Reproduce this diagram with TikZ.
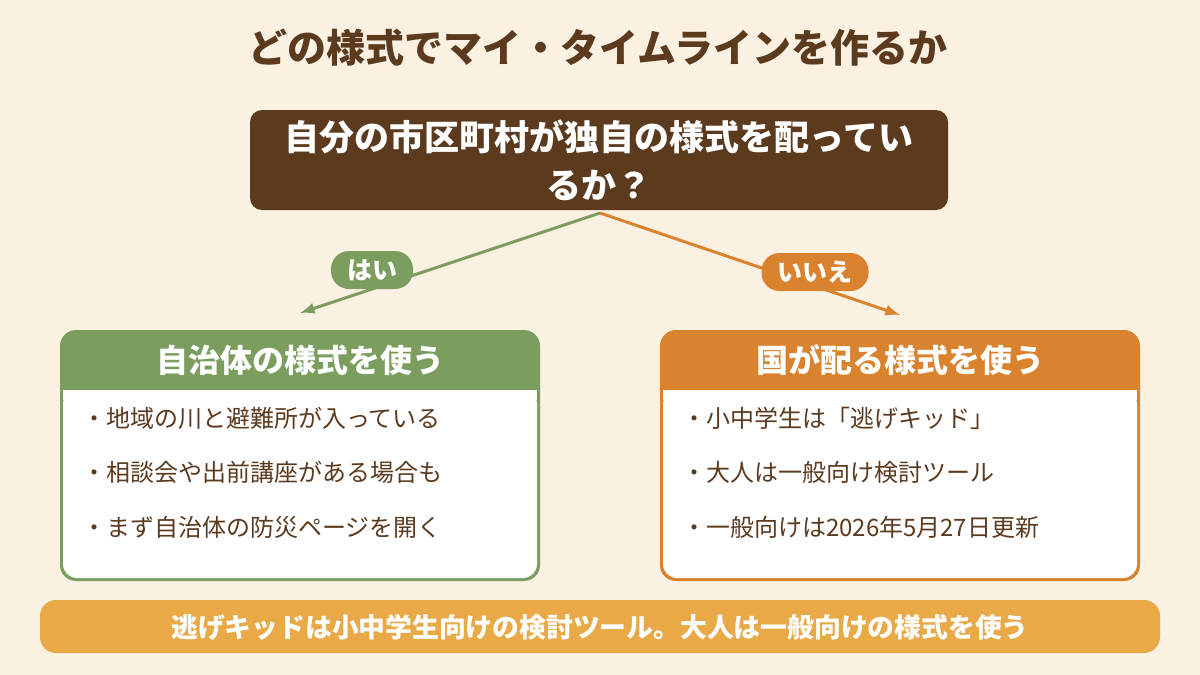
\documentclass[tikz,border=0pt]{standalone}
\usepackage{fontspec}
\setmainfont{Noto Sans CJK JP}
\usetikzlibrary{positioning}
\definecolor{bgcream}{HTML}{FAF1E3}
\definecolor{brown}{HTML}{5C3A1E}
\definecolor{leaf}{HTML}{7B9E5E}
\definecolor{amber}{HTML}{DA832E}
\definecolor{gold}{HTML}{E8A946}
\tikzset{
  pill/.style={rounded corners=9pt, text=white, font=\fontsize{12.5}{14}\selectfont\bfseries, minimum height=19pt, inner xsep=8pt},
  head/.style={text=white, font=\fontsize{16}{18}\selectfont\bfseries},
  item/.style={right, text=brown, font=\fontsize{12}{14}\selectfont},
  link/.style={line width=1.5pt, -latex},
}
\begin{document}
\begin{tikzpicture}[x=0.5pt,y=-0.5pt]
\fill[bgcream] (0,0) rectangle (1200,675);
\useasboundingbox (0,0) rectangle (1200,675);
\node[text=brown, font=\fontsize{19.5}{22}\selectfont\bfseries] (title) at (598,48) {どの様式でマイ・タイムラインを作るか};
% question
\fill[brown, rounded corners=6pt] (250,110) rectangle (948,210);
\node[text=white, font=\fontsize{17.5}{24}\selectfont\bfseries, align=center] (q) at (599,160) {自分の市区町村が独自の様式を配ってい\\るか？};
\coordinate (qs) at (600,213);
\coordinate (yesend) at (300,313);
\coordinate (noend) at (900,315);
\draw[link, leaf] (qs) -- (yesend);
\draw[link, amber] (qs) -- (noend);
\node[pill, fill=leaf] (yes) at (372,270) {はい};
\node[pill, fill=amber] (no) at (815,272) {いいえ};
% left box
\fill[leaf, rounded corners=8pt] (60,330) rectangle (540,581);
\fill[white, rounded corners=7pt] (63,390) rectangle (537,578);
\fill[white] (63,390) rectangle (537,400);
\node[head] (lhead) at (300,360) {自治体の様式を使う};
\node[item] (l1) at (75,418) {・地域の川と避難所が入っている};
\node[item] (l2) at (75,472) {・相談会や出前講座がある場合も};
\node[item] (l3) at (75,527) {・まず自治体の防災ページを開く};
% right box
\fill[amber, rounded corners=8pt] (660,330) rectangle (1140,581);
\fill[white, rounded corners=7pt] (663,390) rectangle (1137,578);
\fill[white] (663,390) rectangle (1137,400);
\node[head] (rhead) at (900,360) {国が配る様式を使う};
\node[item] (r1) at (675,418) {・小中学生は「逃げキッド」};
\node[item] (r2) at (675,472) {・大人は一般向け検討ツール};
\node[item] (r3) at (675,527) {・一般向けは2026年5月27日更新};
% note
\fill[gold, rounded corners=8pt] (40,600) rectangle (1160,653);
\node[text=white, font=\fontsize{13.4}{15}\selectfont\bfseries] (note) at (600,627) {逃げキッドは小中学生向けの検討ツール。大人は一般向けの様式を使う};
\end{tikzpicture}
\end{document}
